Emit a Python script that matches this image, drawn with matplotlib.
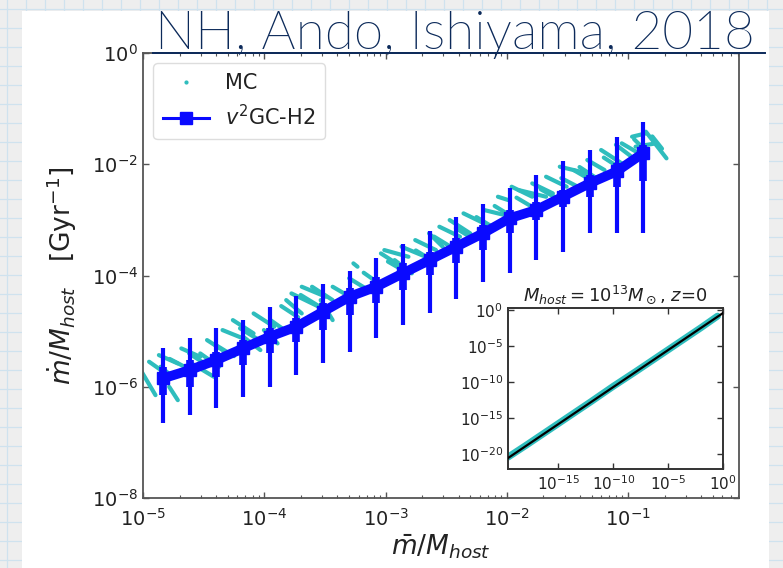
import numpy as np
import matplotlib
matplotlib.use("Agg")
import matplotlib.pyplot as plt
import matplotlib.font_manager as fm
from matplotlib.lines import Line2D
from matplotlib.patches import Rectangle
from matplotlib.ticker import LogLocator, NullLocator

# ---------------- data ----------------
# v2GC-H2 binned points
v2gc_logx = [-4.835, -4.615, -4.395, -4.175, -3.955, -3.735, -3.515, -3.295, -3.075,
             -2.855, -2.635, -2.415, -2.195, -1.975, -1.755, -1.535, -1.315, -1.095, -0.875]
v2gc_logy = [-5.85, -5.70, -5.52, -5.31, -5.10, -4.92, -4.65, -4.38, -4.20,
             -3.96, -3.72, -3.48, -3.24, -2.97, -2.82, -2.58, -2.34, -2.13, -1.80]
# full (thin) range
v2gc_logy_top = [-5.31, -5.13, -4.95, -4.80, -4.56, -4.37, -4.16, -3.92, -3.69,
                 -3.44, -3.20, -2.94, -2.72, -2.42, -2.19, -1.94, -1.75, -1.51, -1.24]
v2gc_logy_bot = [-6.65, -6.51, -6.39, -6.18, -6.00, -5.79, -5.57, -5.37, -5.13,
                 -4.89, -4.68, -4.43, -4.11, -3.96, -3.72, -3.57, -3.24, -3.23, -3.24]
# inner (thick) range, in dex below / above the point
v2gc_in_lo = [0.30, 0.30, 0.30, 0.30, 0.30, 0.27, 0.33, 0.33, 0.30,
              0.30, 0.27, 0.30, 0.30, 0.27, 0.18, 0.18, 0.24, 0.27, 0.51]
v2gc_in_hi = [0.21, 0.18, 0.15, 0.15, 0.15, 0.15, 0.15, 0.15, 0.18,
              0.18, 0.15, 0.15, 0.15, 0.15, 0.15, 0.12, 0.15, 0.15, 0.15]

# MC realisations: short streaks (start / end, log10 values)
mc_lx0 = [-5.011, -4.869, -4.784, -4.855, -4.684, -4.599, -4.472, -4.528, -4.344, -4.259,
          -4.174, -4.088, -4.003, -3.819, -3.776, -3.691, -3.606, -3.535, -3.436, -3.265,
          -3.038, -3.010, -2.925, -2.868, -2.755, -2.641, -2.556, -2.471, -2.357, -2.187,
          -2.073, -1.960, -1.903, -1.790, -1.676, -1.563, -1.449, -1.336, -1.222, -1.052,
          -0.967, -0.853, -0.938,
          -4.95, -4.78, -4.62, -4.40, -4.20, -3.95, -3.86, -3.70, -3.30, -3.18,
          -2.98, -2.75, -2.60, -2.42, -2.25, -2.10, -1.92, -1.72, -1.55, -1.40,
          -1.20, -1.10, -0.80, -0.95]
mc_ly0 = [-5.731, -5.431, -6.001, -5.641, -5.311, -5.581, -5.161, -5.401, -4.981, -4.802,
          -5.101, -4.682, -4.981, -4.442, -4.322, -4.202, -4.202, -4.442, -4.202, -3.782,
          -3.603, -3.543, -3.723, -3.483, -3.363, -3.243, -3.123, -3.003, -2.883, -2.823,
          -2.584, -2.404, -2.464, -2.344, -2.224, -2.044, -2.104, -1.924, -1.744, -1.624,
          -1.505, -1.415, -1.684,
          -5.55, -5.50, -5.40, -5.25, -4.95, -4.80, -4.55, -4.35, -4.05, -3.95,
          -3.75, -3.55, -3.30, -3.15, -2.95, -2.75, -2.60, -2.45, -2.25, -2.05,
          -1.88, -1.65, -1.50, -1.55]
mc_lx1 = [-4.897, -4.713, -4.713, -4.755, -4.528, -4.415, -4.301, -4.372, -4.174, -4.088,
          -4.032, -3.918, -3.890, -3.691, -3.549, -3.492, -3.436, -3.436, -3.294, -3.231,
          -2.868, -2.811, -2.783, -2.669, -2.584, -2.528, -2.386, -2.301, -2.130, -2.017,
          -1.988, -1.790, -1.676, -1.620, -1.506, -1.336, -1.307, -1.194, -1.052, -0.910,
          -0.853, -0.683, -0.768,
          -4.82, -4.64, -4.48, -4.25, -4.05, -3.82, -3.72, -3.55, -3.15, -3.05,
          -2.82, -2.60, -2.45, -2.27, -2.10, -1.95, -1.78, -1.58, -1.40, -1.26,
          -1.08, -0.98, -0.72, -0.88]
mc_ly1 = [-6.151, -5.581, -6.241, -5.821, -5.461, -5.821, -5.401, -5.641, -5.131, -5.041,
          -5.341, -4.922, -5.221, -4.682, -4.562, -4.382, -4.442, -4.802, -4.382, -3.842,
          -3.842, -3.663, -3.962, -3.663, -3.543, -3.483, -3.303, -3.243, -3.123, -2.913,
          -2.644, -2.584, -2.584, -2.524, -2.404, -2.164, -2.284, -2.104, -1.984, -1.804,
          -1.445, -1.894, -1.624,
          -5.75, -5.66, -5.60, -5.45, -5.15, -5.00, -4.75, -4.55, -4.25, -4.15,
          -3.95, -3.75, -3.50, -3.35, -3.15, -2.95, -2.78, -2.62, -2.42, -2.25,
          -2.05, -1.85, -1.72, -1.70]

# inset: MC band and reference line
inset_mc_logx = [-19.6, -18.0, -16.0, -14.0, -12.0, -10.0, -8.0, -6.0, -4.0, -2.0, -0.5]
inset_mc_logy = [-20.45, -18.85, -16.8, -14.75, -12.7, -10.6, -8.6, -6.55, -4.5, -2.45, -0.85]
inset_line_logx = [-19.6, 0.0]
inset_line_logy = [-20.58, -0.42]

main_xticks = [1e-5, 1e-4, 1e-3, 1e-2, 1e-1]
main_yticks = [1e-8, 1e-6, 1e-4, 1e-2, 1e0]
inset_xticks = [1e-15, 1e-10, 1e-5, 1e0]
inset_yticks = [1e-20, 1e-15, 1e-10, 1e-5, 1e0]

title_text = "NH, Ando, Ishiyama, 2018"

# ---------------- figure ----------------
W, H = 783, 568
fig = plt.figure(figsize=(W / 100, H / 100), dpi=100)
fig.patch.set_facecolor("#eeeeee")

# graph-paper background
for k in range(0, 45):
    xp = 7 + 19 * k
    if xp < W:
        fig.add_artist(Line2D([xp / W, xp / W], [0, 1], transform=fig.transFigure,
                              color="#cfe2ee", lw=0.9, zorder=-10))
for k in range(0, 31):
    yp = 9 + 19 * k
    if yp < H:
        fig.add_artist(Line2D([0, 1], [1 - yp / H, 1 - yp / H], transform=fig.transFigure,
                              color="#cfe2ee", lw=0.9, zorder=-10))
fig.add_artist(Rectangle((22 / W, 0), (769 - 22) / W, (H - 11) / H, transform=fig.transFigure,
                         facecolor="white", edgecolor="none", zorder=-5))

CYAN = "#2ebdbd"
BLUE = "#0a0aff"
TXT = "#222222"
SPINE = "#555555"

ax = fig.add_axes([143 / W, 1 - 498 / H, (739 - 143) / W, (498 - 53) / H])
ax.set_xscale("log")
ax.set_yscale("log")

# MC streaks
for a, b, c, d in zip(mc_lx0, mc_ly0, mc_lx1, mc_ly1):
    ax.plot([10 ** a, 10 ** c], [10 ** b, 10 ** d], color=CYAN, lw=3.0,
            solid_capstyle="round", zorder=2)

x = 10 ** np.array(v2gc_logx)
y = 10 ** np.array(v2gc_logy)
ytop = 10 ** np.array(v2gc_logy_top)
ybot = 10 ** np.array(v2gc_logy_bot)
yin_lo = 10 ** (np.array(v2gc_logy) - np.array(v2gc_in_lo))
yin_hi = 10 ** (np.array(v2gc_logy) + np.array(v2gc_in_hi))

ax.vlines(x, ybot, ytop, color=BLUE, lw=3.0, zorder=3)
ax.vlines(x, yin_lo, yin_hi, color=BLUE, lw=5.5, zorder=3)
ax.plot(x, y, color=BLUE, lw=7, marker="s", markersize=8, zorder=4,
        solid_capstyle="butt")

ax.set_xlim(1e-5, 10 ** -0.085)
ax.set_ylim(1e-8, 1e0)
ax.set_xticks(main_xticks)
ax.set_yticks(main_yticks)
ax.xaxis.set_minor_locator(LogLocator(base=10, subs=np.arange(2, 10), numticks=20))
ax.yaxis.set_minor_locator(NullLocator())
ax.tick_params(which="both", direction="in", top=True, right=True, colors=SPINE,
               labelcolor=TXT, labelsize=14)
ax.tick_params(which="major", length=4, width=1)
ax.tick_params(which="minor", length=2.5, width=0.8)
ax.tick_params(axis="x", which="major", pad=7)
for s in ax.spines.values():
    s.set_color(SPINE)
    s.set_linewidth(1.3)

ax.set_xlabel(r"$\bar{m}/M_{host}$", fontsize=19, color=TXT, labelpad=2)
ax.set_ylabel(r"$\dot{m}/M_{host}$   [Gyr$^{-1}$]", fontsize=19, color=TXT, labelpad=9)

handles = [Line2D([], [], ls="", marker=".", markersize=4, color=CYAN),
           Line2D([], [], color=BLUE, lw=2.2, marker="s", markersize=9)]
leg = ax.legend(handles, ["MC", r"$v^2$GC-H2"], loc="upper left", fontsize=15,
                borderaxespad=0.5, handlelength=2.2, borderpad=0.45, labelspacing=0.55,
                handletextpad=0.8, framealpha=1.0, edgecolor="#dddddd")
for t in leg.get_texts():
    t.set_color(TXT)

# ---------------- inset ----------------
ins = fig.add_axes([508 / W, 1 - 469 / H, (723 - 508) / W, (469 - 308) / H])
ins.set_xscale("log")
ins.set_yscale("log")
ins.plot(10 ** np.array(inset_mc_logx), 10 ** np.array(inset_mc_logy), color=CYAN,
         lw=5, solid_capstyle="round", zorder=2)
ins.plot(10 ** np.array(inset_line_logx), 10 ** np.array(inset_line_logy), color="black",
         lw=1.6, zorder=3)
ins.set_xlim(10 ** -19.6, 1e0)
ins.set_ylim(10 ** -22.1, 10 ** 0.28)
ins.set_xticks(inset_xticks)
ins.set_yticks(inset_yticks)
ins.xaxis.set_minor_locator(NullLocator())
ins.yaxis.set_minor_locator(NullLocator())
ins.tick_params(which="both", direction="in", top=True, right=True, colors="#333333",
                labelcolor=TXT, labelsize=11, length=4, width=1)
for s in ins.spines.values():
    s.set_color("#333333")
    s.set_linewidth(1.4)
ins.set_title(r"$M_{host}=10^{13}M_\odot$, $z$=0", fontsize=13, color=TXT, pad=5)

# ---------------- slide title ----------------
def pick_light_font():
    def wnum(w):
        if isinstance(w, str):
            return fm.weight_dict.get(w, 400)
        return w
    for fam in ["Lato", "Open Sans", "Roboto", "Noto Sans", "Inter"]:
        for f in fm.fontManager.ttflist:
            if (f.name == fam and f.style == "normal" and "condensed" not in str(f.stretch)
                    and 200 <= wnum(f.weight) <= 300):
                return fm.FontProperties(fname=f.fname)
    return fm.FontProperties(family="Lato")

fp = pick_light_font()
fp.set_size(36)
title = fig.text(155 / W, 1 - 49 / H, title_text, fontproperties=fp, color="#0c2a5a",
                 ha="left", va="baseline")
fig.canvas.draw()
bb = title.get_window_extent(fig.canvas.get_renderer())
fp.set_size(36 * 600 / bb.width)
title.set_fontproperties(fp)
fig.add_artist(Line2D([153 / W, 765 / W], [1 - 53 / H, 1 - 53 / H],
                      transform=fig.transFigure, color="#0c2a5a", lw=1.4))

fig.savefig("out.png", dpi=100, facecolor=fig.get_facecolor())
